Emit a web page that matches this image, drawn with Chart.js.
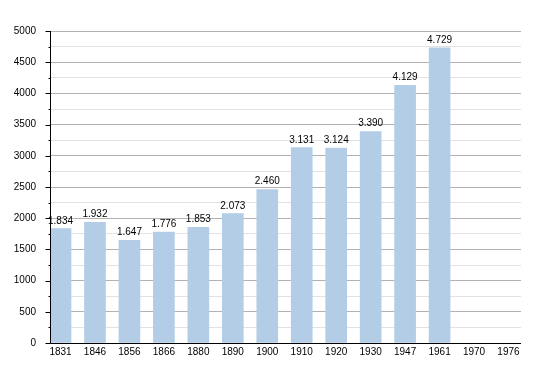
<!DOCTYPE html>
<html>
<head>
<meta charset="utf-8">
<script src="https://cdn.jsdelivr.net/npm/chart.js@4"></script>
<style>
    html, body { margin: 0; padding: 0; background: #fff; }
    #wrap { width: 550px; height: 373px; }
</style>
</head>
<body>
<div id="wrap"><canvas id="popChart" width="550" height="373"></canvas></div>
<script>
const years = ['1831', '1846', '1856', '1866', '1880', '1890', '1900', '1910', '1920', '1930', '1947', '1961', '1970', '1976'];
const population = [1834, 1932, 1647, 1776, 1853, 2073, 2460, 3131, 3124, 3390, 4129, 4729, null, null];

const points = population.map(function (v, i) { return { x: i, y: v }; });
const FONT = '"Liberation Sans", Arial, sans-serif';

function fmt(n) {
    return String(n).replace(/\B(?=(\d{3})+(?!\d))/g, '.');
}

// value labels above bars, axis lines and y tick marks (long for major, short for minor)
const extras = {
    id: 'extras',
    afterDatasetsDraw: function (chart) {
        const ctx = chart.ctx;
        const meta = chart.getDatasetMeta(0);
        const area = chart.chartArea;
        ctx.save();
        ctx.font = '10px ' + FONT;
        ctx.fillStyle = '#000';
        ctx.textAlign = 'center';
        ctx.textBaseline = 'alphabetic';
        meta.data.forEach(function (bar, i) {
            if (population[i] == null) return;
            ctx.fillText(fmt(population[i]), bar.x, bar.y - 5);
        });

        const y = chart.scales.y;
        const left = Math.round(area.left) + 0.5;
        const bottom = Math.round(area.bottom) + 0.5;
        ctx.strokeStyle = '#000';
        ctx.lineWidth = 1;
        y.ticks.forEach(function (t) {
            const py = Math.round(y.getPixelForValue(t.value)) + 0.5;
            const len = t.value % 500 === 0 ? 5 : 2;
            ctx.beginPath();
            ctx.moveTo(left - len, py);
            ctx.lineTo(left, py);
            ctx.stroke();
        });
        ctx.beginPath();
        ctx.moveTo(left, Math.round(area.top));
        ctx.lineTo(left, bottom);
        ctx.lineTo(Math.round(area.right), bottom);
        ctx.stroke();
        ctx.restore();
    }
};

const ctx = document.getElementById('popChart').getContext('2d');
new Chart(ctx, {
    type: 'bar',
    data: {
        datasets: [{
            data: points,
            backgroundColor: '#b3cde6',
            borderWidth: 0,
            barThickness: 21
        }]
    },
    options: {
        responsive: false,
        animation: false,
        layout: { padding: { top: 31, right: 29, left: 0, bottom: 0 } },
        plugins: {
            legend: { display: false },
            tooltip: { enabled: false }
        },
        scales: {
            x: {
                type: 'linear',
                offset: false,
                min: -0.305,
                max: 13.363,
                afterBuildTicks: function (scale) {
                    scale.ticks = years.map(function (y, i) { return { value: i }; });
                },
                afterFit: function (scale) { scale.height = 30; },
                grid: { display: false, drawTicks: false, offset: false },
                border: { display: false },
                ticks: {
                    autoSkip: false,
                    maxRotation: 0,
                    padding: 3,
                    color: '#000',
                    font: { family: FONT, size: 10 },
                    callback: function (v) { return years[v]; }
                }
            },
            y: {
                min: 0,
                max: 5000,
                afterFit: function (scale) { scale.width = 50; },
                border: { display: false },
                grid: {
                    drawTicks: false,
                    color: function (c) {
                        return c.tick.value % 500 === 0 ? '#b2b2b2' : '#e2e2e2';
                    }
                },
                ticks: {
                    stepSize: 250,
                    autoSkip: false,
                    padding: 14,
                    color: '#000',
                    font: { family: FONT, size: 10 },
                    callback: function (v) { return v % 500 === 0 ? String(v) : ''; }
                }
            }
        }
    },
    plugins: [extras]
});
</script>
</body>
</html>
